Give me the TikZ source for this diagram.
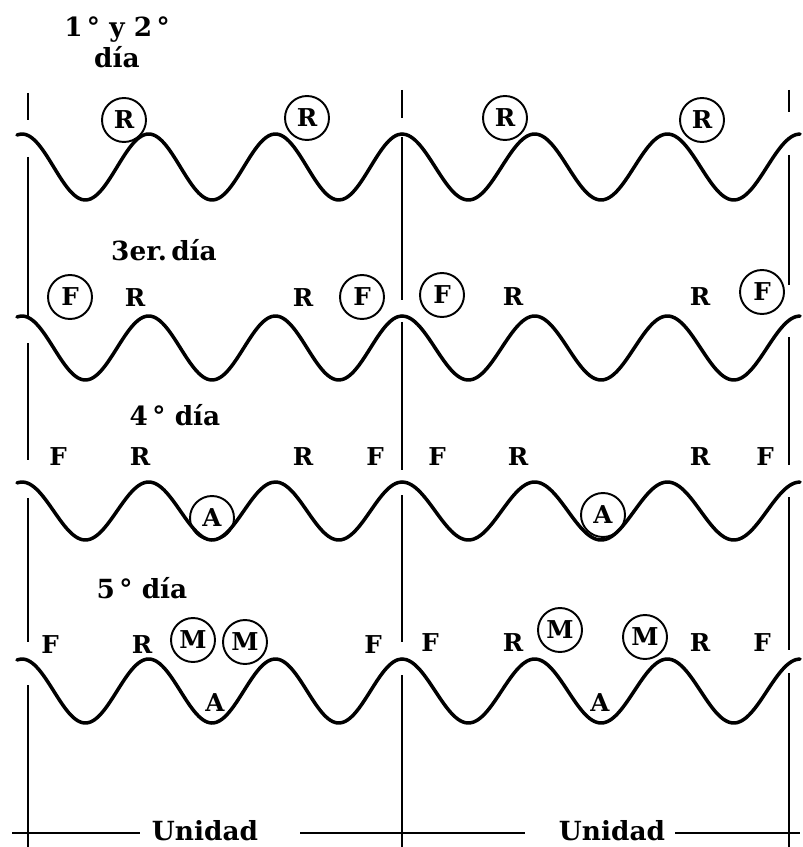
\documentclass[tikz,border=0pt]{standalone}
\usepackage{fontspec}
\setmainfont{DejaVu Serif}
\begin{document}
\begin{tikzpicture}[x=0.02cm, y=-0.02cm,
    wave/.style={line width=2pt, line cap=round, line join=round},
    divider/.style={line width=0.9pt},
    day/.style={font=\bfseries\fontsize{15}{17.5}\selectfont, align=center},
    tag/.style={font=\bfseries\fontsize{14}{16}\selectfont, inner sep=0pt},
    ring/.style={tag, circle, draw, line width=1.1pt, minimum size=0.88cm}]

    \useasboundingbox (0,0) rectangle (802,847);

    % Unit dividers, broken where the waves meet them
    \foreach \ya/\yb in {93/120,157/317,343/460,498/642,685/847}
        \draw[divider] (28,\ya) -- (28,\yb);
    \foreach \ya/\yb in {90/118,137/300,322/470,495/642,675/847}
        \draw[divider] (402,\ya) -- (402,\yb);
    \foreach \ya/\yb in {90/112,155/285,337/465,497/650,673/847}
        \draw[divider] (789,\ya) -- (789,\yb);

    % Four waves, three periods per unit
    \foreach \yc/\amp in {167/33, 348/32, 511/29, 691/32} {
        \draw[wave] plot[domain=17:402, samples=90, smooth] (\x, {\yc-\amp*cos((\x-22)/126.7*360)});
        \draw[wave] plot[domain=402:800, samples=90, smooth] (\x, {\yc-\amp*cos((\x-402)/132.7*360)});
    }

    % 1st and 2nd day
    \node[day] (d12) at (117,42) {1\,° y 2\,°\\día};
    \node[ring] (r1a) at (124,120) {R};
    \node[ring] (r1b) at (307,118) {R};
    \node[ring] (r1c) at (505,118) {R};
    \node[ring] (r1d) at (702,120) {R};

    % 3rd day
    \node[day] (d3) at (164,250) {3er.\,día};
    \node[ring] (f2a) at (70,297) {F};
    \node[tag] (r2a) at (135,298) {R};
    \node[tag] (r2b) at (303,298) {R};
    \node[ring] (f2b) at (362,297) {F};
    \node[ring] (f2c) at (442,295) {F};
    \node[tag] (r2c) at (513,297) {R};
    \node[tag] (r2d) at (700,297) {R};
    \node[ring] (f2d) at (762,292) {F};

    % 4th day
    \node[day] (d4) at (175,415) {4\,° día};
    \node[tag] (f3a) at (58,457) {F};
    \node[tag] (r3a) at (140,457) {R};
    \node[tag] (r3b) at (303,457) {R};
    \node[tag] (f3b) at (375,457) {F};
    \node[ring] (a3a) at (212,518) {A};
    \node[tag] (f3c) at (437,457) {F};
    \node[tag] (r3c) at (518,457) {R};
    \node[tag] (r3d) at (700,457) {R};
    \node[tag] (f3d) at (765,457) {F};
    \node[ring] (a3b) at (603,515) {A};

    % 5th day
    \node[day] (d5) at (142,588) {5\,° día};
    \node[tag] (f4a) at (50,645) {F};
    \node[tag] (r4a) at (142,645) {R};
    \node[ring] (m4a) at (193,640) {M};
    \node[ring] (m4b) at (245,642) {M};
    \node[tag] (f4b) at (373,645) {F};
    \node[tag] (a4a) at (215,703) {A};
    \node[tag] (f4c) at (430,643) {F};
    \node[tag] (r4c) at (513,643) {R};
    \node[ring] (m4c) at (560,630) {M};
    \node[ring] (m4d) at (645,637) {M};
    \node[tag] (r4d) at (700,643) {R};
    \node[tag] (f4d) at (762,643) {F};
    \node[tag] (a4b) at (600,703) {A};

    % Unit scale along the bottom
    \node[day] (u1) at (205,831) {Unidad};
    \node[day] (u2) at (612,831) {Unidad};
    \draw[divider] (12,833) -- (140,833);
    \draw[divider] (300,833) -- (525,833);
    \draw[divider] (675,833) -- (800,833);

\end{tikzpicture}
\end{document}
